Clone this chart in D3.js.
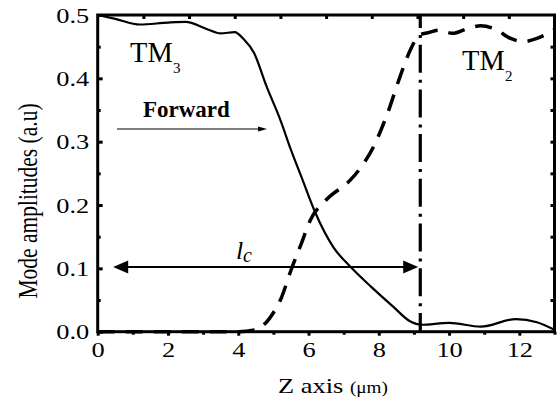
<!DOCTYPE html>
<html>
<head>
<meta charset="utf-8">
<script src="https://cdn.jsdelivr.net/npm/d3@7"></script>
<style>
  body { margin: 0; background: #fff; }
  text { font-family: "Liberation Serif", "Times New Roman", serif; fill: #000; }
</style>
</head>
<body>
<div id="chart"></div>
<script>
// TM3 mode (solid)
var tm3Z   = [0, 0.5, 1.2, 2, 2.5, 3.1, 3.5, 3.9, 4.15, 4.45, 4.8, 5.2, 5.5, 5.8, 6.2, 6.7, 7.2, 7.8, 8.4, 8.9, 9.2, 10, 10.9, 11.9, 12.5, 13];
var tm3Amp = [0.5, 0.494, 0.485, 0.488, 0.489, 0.478, 0.471, 0.473, 0.462, 0.44, 0.388, 0.334, 0.287, 0.244, 0.187, 0.134, 0.102, 0.07, 0.04, 0.016, 0.011, 0.014, 0.008, 0.02, 0.015, 0.003];

// TM2 mode (dashed)
var tm2Z   = [0, 1, 2, 3, 4, 4.5, 4.75, 5.0, 5.2, 5.5, 5.8, 6.05, 6.5, 7.2, 7.5, 7.85, 8.25, 8.6, 8.9, 9.15, 9.4, 9.7, 10.1, 10.5, 10.9, 11.3, 11.75, 12.1, 12.5, 13];
var tm2Amp = [0, 0, 0, 0, 0, 0.003, 0.012, 0.03, 0.05, 0.097, 0.14, 0.176, 0.208, 0.24, 0.26, 0.292, 0.345, 0.402, 0.445, 0.468, 0.472, 0.476, 0.471, 0.478, 0.483, 0.478, 0.463, 0.458, 0.463, 0.477];

var xTicks = [0, 2, 4, 6, 8, 10, 12];
var xMinorTicks = [1, 3, 5, 7, 9, 11, 13];
var yTicks = [0, 0.1, 0.2, 0.3, 0.4, 0.5];
var yTickLabels = ["0.0", "0.1", "0.2", "0.3", "0.4", "0.5"];
var yMinorTicks = [0.05, 0.15, 0.25, 0.35, 0.45];
var topTicks = [1.3, 2.6, 3.9, 5.2, 6.5, 7.8, 9.1, 10.4, 11.7];
var rightTicks = [0.05, 0.1, 0.15, 0.2, 0.25, 0.3, 0.35, 0.4, 0.45];

var couplingLength = 9.18;   // dash-dot marker
var lcArrow = [0.44, 9.12, 0.102];   // from, to, level
var fwdArrow = [0.55, 4.82, 0.32];

var width = 558, height = 405;
var x0 = 97.7, x1 = 554.5, y0 = 331.7, y1 = 15;
var stretch = 1.2;

var svg = d3.select("#chart").append("svg")
    .attr("width", width)
    .attr("height", height);

var x = d3.scaleLinear().domain([0, 13]).range([x0, x1]);
var y = d3.scaleLinear().domain([0, 0.5]).range([y0, y1]);

var line = d3.line()
    .x(function(d) { return x(d[0]); })
    .y(function(d) { return y(d[1]); })
    .curve(d3.curveMonotoneX);

// curves
svg.append("path")
    .datum(d3.zip(tm2Z, tm2Amp))
    .attr("d", line)
    .attr("fill", "none")
    .attr("stroke", "#000")
    .attr("stroke-width", 3.5)
    .attr("stroke-dasharray", "17,11");

svg.append("path")
    .datum(d3.zip(tm3Z, tm3Amp))
    .attr("d", line)
    .attr("fill", "none")
    .attr("stroke", "#000")
    .attr("stroke-width", 2.2);

svg.append("line")
    .attr("x1", x(couplingLength)).attr("x2", x(couplingLength))
    .attr("y1", y(0.5)).attr("y2", y(0))
    .attr("stroke", "#000")
    .attr("stroke-width", 3.2)
    .attr("stroke-dasharray", "28,7,3,6.7")
    .attr("stroke-dashoffset", y(0.5));

// axes
svg.append("g").attr("transform", "translate(0," + y0 + ")")
    .call(d3.axisBottom(x).tickValues(xTicks).tickSize(4).tickPadding(6).tickFormat(d3.format("d")));
svg.append("g").attr("transform", "translate(0," + y0 + ")")
    .call(d3.axisBottom(x).tickValues(xMinorTicks).tickSize(3).tickFormat(""));

svg.append("g").attr("transform", "translate(" + x0 + ",0)")
    .call(d3.axisLeft(y).tickValues(yTicks).tickSize(-5).tickPadding(7)
        .tickFormat(function(d, i) { return yTickLabels[i]; }));
svg.append("g").attr("transform", "translate(" + x0 + ",0)")
    .call(d3.axisLeft(y).tickValues(yMinorTicks).tickSize(-3).tickFormat(""));

svg.append("g").attr("transform", "translate(0," + y1 + ")")
    .call(d3.axisTop(x).tickValues(topTicks).tickSize(-4).tickFormat(""));
svg.append("g").attr("transform", "translate(" + x1 + ",0)")
    .call(d3.axisRight(y).tickValues(rightTicks).tickSize(-4).tickFormat(""));

svg.selectAll(".domain").remove();
svg.selectAll(".tick line").attr("stroke", "#000").attr("stroke-width", 3);
svg.selectAll(".tick text")
    .style("font-family", "'Liberation Serif', 'Times New Roman', serif")
    .attr("font-size", 22)
    .attr("transform", "scale(" + stretch + ",1)");

svg.append("rect")
    .attr("x", x0).attr("y", y1)
    .attr("width", x1 - x0).attr("height", y0 - y1)
    .attr("fill", "none")
    .attr("stroke", "#000")
    .attr("stroke-width", 3);

// axis titles
var xt = svg.append("text")
    .attr("transform", "translate(333,393) scale(" + stretch + ",1)")
    .attr("text-anchor", "middle")
    .attr("font-size", 22);
xt.append("tspan").text("Z axis ");
xt.append("tspan").attr("font-size", 16).text("(μm)");

svg.append("text")
    .attr("transform", "translate(37,201) scale(1.32,1) rotate(-90)")
    .attr("text-anchor", "middle")
    .attr("font-size", 21.5)
    .text("Mode amplitudes (a.u)");

// mode labels
function modeLabel(px, py, sub) {
    svg.append("text")
        .attr("transform", "translate(" + px + "," + py + ") scale(0.95,1)")
        .attr("font-size", 30)
        .text("TM");
    svg.append("text")
        .attr("x", px + 43).attr("y", py + 11)
        .attr("font-size", 15)
        .text(sub);
}
modeLabel(130, 62, "3");
modeLabel(462, 70, "2");

// forward arrow
svg.append("text")
    .attr("x", 143).attr("y", 117)
    .attr("font-size", 23)
    .attr("font-weight", "bold")
    .text("Forward");

var fy = y(fwdArrow[2]);
svg.append("line")
    .attr("x1", x(fwdArrow[0])).attr("x2", x(fwdArrow[1]) - 6)
    .attr("y1", fy).attr("y2", fy)
    .attr("stroke", "#000").attr("stroke-width", 1);
svg.append("path")
    .attr("d", "M" + x(fwdArrow[1]) + "," + fy + "l-9,-2.5v5z")
    .attr("fill", "#000");

// coupling length arrow
var ly = y(lcArrow[2]);
svg.append("line")
    .attr("x1", x(lcArrow[0]) + 10).attr("x2", x(lcArrow[1]) - 10)
    .attr("y1", ly).attr("y2", ly)
    .attr("stroke", "#000").attr("stroke-width", 2);
svg.append("path")
    .attr("d", "M" + x(lcArrow[0]) + "," + ly + "l15,-6.5v13z")
    .attr("fill", "#000");
svg.append("path")
    .attr("d", "M" + x(lcArrow[1]) + "," + ly + "l-15,-6.5v13z")
    .attr("fill", "#000");

svg.append("text")
    .attr("x", 236).attr("y", 259)
    .attr("font-size", 26)
    .attr("font-style", "italic")
    .text("l");
svg.append("text")
    .attr("x", 243).attr("y", 262)
    .attr("font-size", 20)
    .attr("font-style", "italic")
    .text("c");
</script>
</body>
</html>
